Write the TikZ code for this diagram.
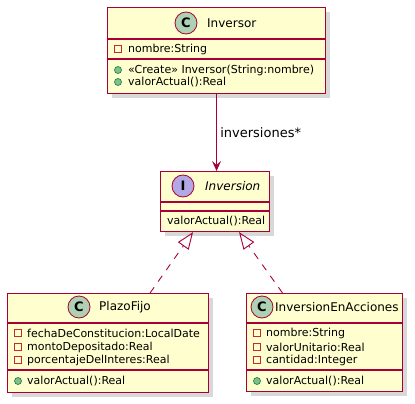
\documentclass[tikz,border=0pt]{standalone}
\usepackage{fontspec}
\setmainfont{DejaVu Sans}
\usepackage{tikz}
\usetikzlibrary{calc}
\usetikzlibrary{shadows}
\usetikzlibrary{arrows.meta}
\usepackage{color}
\definecolor{bordure}{HTML}{A80036}
\definecolor{fond}{HTML}{FEFECE}
\definecolor{vertC}{HTML}{ADD1B2}
\definecolor{violetI}{HTML}{B4A7E5}
\definecolor{priv}{HTML}{C82930}
\definecolor{pubfond}{HTML}{84BE84}
\definecolor{pubtrait}{HTML}{038048}
\tikzset{
 classe/.style={draw=bordure, fill=fond, line width=1.1pt, rectangle, inner sep=0pt, anchor=north west,
   drop shadow={shadow xshift=4pt, shadow yshift=-4pt, fill=black!30}},
 separ/.style={draw=bordure, line width=1.1pt},
 rond/.style={circle, draw=bordure, line width=0.8pt, minimum size=22pt, inner sep=0pt, font=\fontsize{13}{13}\selectfont\bfseries},
 titre/.style={anchor=west, inner sep=0pt, font=\fontsize{12}{14}\selectfont},
 membre/.style={anchor=west, inner sep=0pt, font=\fontsize{11}{13}\selectfont},
 prive/.style={rectangle, draw=priv, line width=0.7pt, minimum size=7pt, inner sep=0pt},
 public/.style={circle, draw=pubtrait, fill=pubfond, line width=0.6pt, minimum size=7pt, inner sep=0pt},
 realise/.style={draw=bordure, line width=0.9pt, dash pattern=on 7pt off 7pt, -{Triangle[open, length=17pt, width=13pt]}},
 assoc/.style={draw=bordure, line width=0.9pt, -{Stealth[length=10pt, width=9pt, inset=4pt]}},
}

\begin{document}
\begin{tikzpicture}[x=1pt,y=-1pt]
	\useasboundingbox[fill=white] (0,0) rectangle (415,404);
%					Classe Inversor :
	\node[classe, minimum width=218pt, minimum height=86pt] (inversor) at (107,7) {};
	\draw[separ] (107,39) -- (325,39);
	\draw[separ] (107,59) -- (325,59);
	\node[rond, fill=vertC] (cinversor) at (186,23) {C};
	\node[titre] (ninversor) at (207,23) {Inversor};
	\node[prive] (pinversor1) at (118,49) {};
	\node[membre] at (128,49) {nombre:String};
	\node[public] (minversor1) at (118,70) {};
	\node[membre] at (128,70) {«Create» Inversor(String:nombre)};
	\node[public] (minversor2) at (118,82) {};
	\node[membre] at (128,82) {valorActual():Real};
%					Interface Inversion :
	\node[classe, minimum width=109pt, minimum height=60pt] (inversion) at (160,171) {};
	\draw[separ] (160,202) -- (269,202);
	\draw[separ] (160,211) -- (269,211);
	\node[rond, fill=violetI] (iinversion) at (183,186) {I};
	\node[titre] (ninversion) at (205,186) {\itshape Inversion};
	\node[membre] at (167,221) {valorActual():Real};
%					Classe PlazoFijo :
	\node[classe, minimum width=201pt, minimum height=99pt] (plazofijo) at (7,293) {};
	\draw[separ] (7,323) -- (208,323);
	\draw[separ] (7,370) -- (208,370);
	\node[rond, fill=vertC] (cplazofijo) at (79,307) {C};
	\node[titre] (nplazofijo) at (99,307) {PlazoFijo};
	\node[prive] at (18,333) {};
	\node[membre] at (27,333) {fechaDeConstitucion:LocalDate};
	\node[prive] at (18,347) {};
	\node[membre] at (27,347) {montoDepositado:Real};
	\node[prive] at (18,360) {};
	\node[membre] at (27,360) {porcentajeDelInteres:Real};
	\node[public] at (18,381) {};
	\node[membre] at (27,381) {valorActual():Real};
%					Classe InversionEnAcciones :
	\node[classe, minimum width=156pt, minimum height=98pt] (acciones) at (246,293) {};
	\draw[separ] (246,323) -- (402,323);
	\draw[separ] (246,370) -- (402,370);
	\node[rond, fill=vertC] (cacciones) at (262,307) {C};
	\node[titre] (nacciones) at (275,307) {InversionEnAcciones};
	\node[prive] at (257,333) {};
	\node[membre] at (266,333) {nombre:String};
	\node[prive] at (257,347) {};
	\node[membre] at (266,347) {valorUnitario:Real};
	\node[prive] at (257,360) {};
	\node[membre] at (266,360) {cantidad:Integer};
	\node[public] at (257,381) {};
	\node[membre] at (266,381) {valorActual():Real};
%					Relations :
	\draw[assoc] (inversor.south) -- (inversor.south |- inversion.north)
		node[midway, right=0pt, font=\fontsize{13}{15}\selectfont] (linversiones) {inversiones*};
	\draw[realise] ($(plazofijo.north)+(42,0)$) -- ($(inversion.south)+(-22,0)$);
	\draw[realise] ($(acciones.north)+(-42,0)$) -- ($(inversion.south)+(24,0)$);
\end{tikzpicture}
\end{document}
